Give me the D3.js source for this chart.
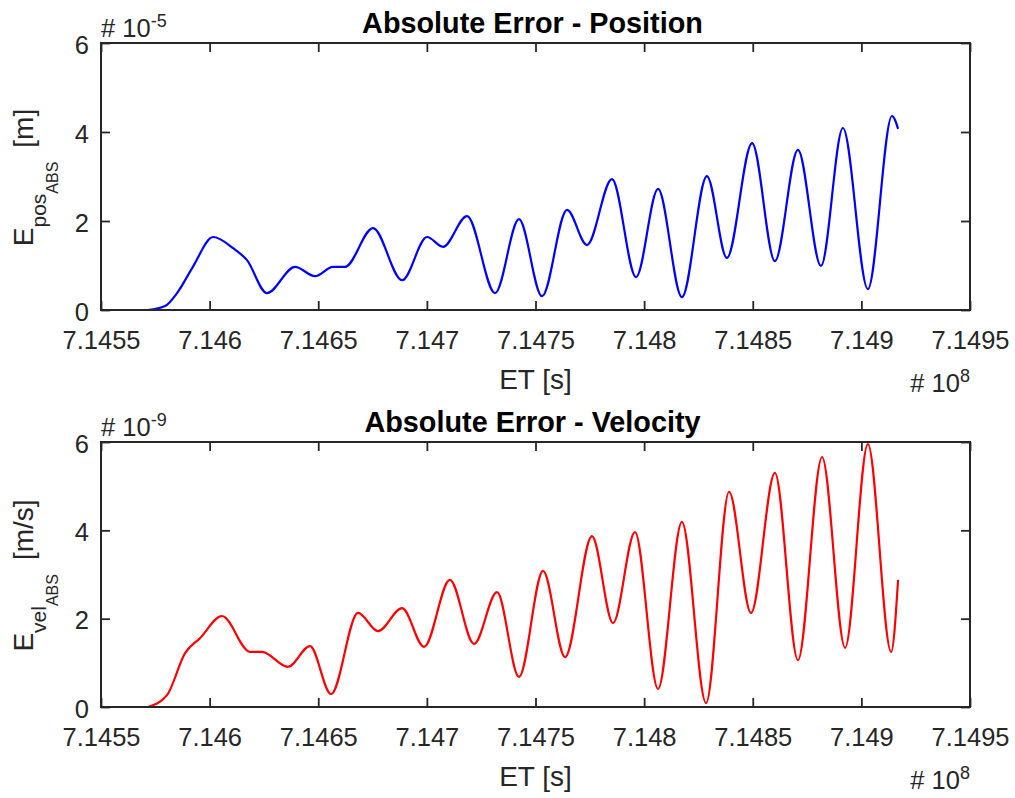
<!DOCTYPE html>
<html>
<head>
<meta charset="utf-8">
<script src="https://cdn.jsdelivr.net/npm/d3@7"></script>
<style>
  html, body { margin: 0; padding: 0; background: #fff; }
  svg { display: block; font-family: "Liberation Sans", Arial, Helvetica, sans-serif; }
</style>
</head>
<body>
<svg id="chart" width="1015" height="798"></svg>
<script>
// ---- data (ET in units of 1e8 s) ----
const xTicks = [7.1455, 7.146, 7.1465, 7.147, 7.1475, 7.148, 7.1485, 7.149, 7.1495];
const xTickLabels = ["7.1455", "7.146", "7.1465", "7.147", "7.1475", "7.148", "7.1485", "7.149", "7.1495"];
const yTicks = [0, 2, 4, 6];
const yTickLabels = ["0", "2", "4", "6"];

// Position error (units of 1e-5 m)
const posET = [7.145716, 7.145795, 7.145850, 7.145923, 7.146016, 7.146108, 7.146172, 7.146264,
  7.146393, 7.146485, 7.146568, 7.146623, 7.146752, 7.146886, 7.147001, 7.147074, 7.147185,
  7.147314, 7.147424, 7.147530, 7.147645, 7.147737, 7.147852, 7.147963, 7.148064, 7.148174,
  7.148289, 7.148381, 7.148497, 7.148602, 7.148708, 7.148814, 7.148915, 7.149030, 7.149141, 7.149169];
const posErr = [0, 0.09, 0.38, 0.97, 1.64, 1.39, 1.12, 0.38,
  0.97, 0.76, 0.97, 0.97, 1.84, 0.67, 1.64, 1.42, 2.11,
  0.38, 2.04, 0.31, 2.25, 1.46, 2.94, 0.74, 2.72, 0.29,
  3.01, 1.17, 3.75, 1.10, 3.60, 0.99, 4.09, 0.47, 4.36, 4.07];

// Velocity error (units of 1e-9 m/s)
const velET = [7.145716, 7.145804, 7.145887, 7.145956, 7.146057, 7.146186, 7.146241, 7.146361,
  7.146462, 7.146559, 7.146683, 7.146775, 7.146886, 7.146987, 7.147106, 7.147217, 7.147323,
  7.147424, 7.147535, 7.147636, 7.147760, 7.147857, 7.147958, 7.148064, 7.148174, 7.148285,
  7.148391, 7.148492, 7.148602, 7.148708, 7.148819, 7.148925, 7.149030, 7.149137, 7.149169];
const velErr = [0, 0.27, 1.22, 1.56, 2.06, 1.25, 1.25, 0.91,
  1.38, 0.29, 2.13, 1.72, 2.24, 1.36, 2.88, 1.43, 2.60,
  0.68, 3.08, 1.13, 3.87, 1.90, 3.96, 0.41, 4.19, 0.09,
  4.87, 2.13, 5.30, 1.06, 5.66, 1.34, 5.95, 1.25, 2.88];

const panels = [
  { title: "Absolute Error - Position", xs: posET, ys: posErr, color: "#0000ff",
    exp: "-5", sub: "pos", unit: "[m]", top: 43, bottom: 310 },
  { title: "Absolute Error - Velocity", xs: velET, ys: velErr, color: "#ff0000",
    exp: "-9", sub: "vel", unit: "[m/s]", top: 442, bottom: 707 }
];

const svg = d3.select("#chart");
const left = 101, right = 970;
const axisColor = "#262626";
const tickFont = 25.5, labelFont = 28, titleFont = 28.8;

panels.forEach(p => {
  const x = d3.scaleLinear().domain([7.1455, 7.1495]).range([left, right]);
  const y = d3.scaleLinear().domain([0, 6]).range([p.bottom, p.top]);
  const g = svg.append("g");

  // curve
  const data = p.xs.map((v, i) => [v, p.ys[i]]);
  g.append("path")
    .datum(data)
    .attr("fill", "none")
    .attr("stroke", p.color)
    .attr("stroke-width", 2.2)
    .attr("stroke-linejoin", "round")
    .attr("d", d3.line().x(d => x(d[0])).y(d => y(d[1])).curve(d3.curveMonotoneX));

  // axes (box with inward ticks)
  const tl = 9;
  const bx = d3.axisBottom(x).tickValues(xTicks).tickFormat((d, i) => xTickLabels[i]).tickSizeInner(-tl).tickSizeOuter(0).tickPadding(22);
  const tx = d3.axisTop(x).tickValues(xTicks).tickFormat("").tickSizeInner(-tl).tickSizeOuter(0);
  const ly = d3.axisLeft(y).tickValues(yTicks).tickFormat((d, i) => yTickLabels[i]).tickSizeInner(-tl).tickSizeOuter(0).tickPadding(12);
  const ry = d3.axisRight(y).tickValues(yTicks).tickFormat("").tickSizeInner(-tl).tickSizeOuter(0);

  const axB = g.append("g").attr("transform", `translate(0,${p.bottom})`).call(bx);
  const axT = g.append("g").attr("transform", `translate(0,${p.top})`).call(tx);
  const axL = g.append("g").attr("transform", `translate(${left},0)`).call(ly);
  const axR = g.append("g").attr("transform", `translate(${right},0)`).call(ry);
  [axB, axT, axL, axR].forEach(a => {
    a.select(".domain").remove();
    a.selectAll("line").attr("stroke", axisColor).attr("stroke-width", 1.8);
    a.selectAll("text").attr("fill", axisColor).style("font-size", tickFont + "px").style("font-family", "Liberation Sans, Arial, sans-serif");
  });
  axB.selectAll("text").attr("dy", "0.68em");
  axL.selectAll("text").attr("dy", "0.40em");

  g.append("rect")
    .attr("x", left).attr("y", p.top)
    .attr("width", right - left).attr("height", p.bottom - p.top)
    .attr("fill", "none").attr("stroke", axisColor).attr("stroke-width", 2);

  // title
  g.append("text")
    .attr("x", (left + right) / 2 - 3).attr("y", p.top - 10)
    .attr("text-anchor", "middle")
    .attr("font-weight", "bold").attr("fill", "#000")
    .style("font-size", titleFont + "px")
    .text(p.title);

  // y exponent
  const ye = g.append("text").attr("x", left).attr("y", p.top - 6)
    .attr("fill", axisColor).style("font-size", tickFont + "px");
  ye.append("tspan").text("# 10");
  ye.append("tspan").attr("dy", -10).style("font-size", "18px").text(p.exp);

  // x exponent
  const xe = g.append("text").attr("x", right).attr("y", p.bottom + 82)
    .attr("text-anchor", "end").attr("fill", axisColor).style("font-size", tickFont + "px");
  xe.append("tspan").text("# 10");
  xe.append("tspan").attr("dy", -10).style("font-size", "18px").text("8");

  // x label
  g.append("text")
    .attr("x", (left + right) / 2).attr("y", p.bottom + 79)
    .attr("text-anchor", "middle").attr("fill", axisColor)
    .style("font-size", labelFont + "px")
    .text("ET [s]");

  // y label
  const yl = g.append("text")
    .attr("transform", `translate(33,${(p.top + p.bottom) / 2 + 1}) rotate(-90)`)
    .attr("text-anchor", "middle").attr("fill", axisColor)
    .style("font-size", labelFont + "px");
  yl.append("tspan").text("E");
  yl.append("tspan").attr("dy", 13).style("font-size", "21px").text(p.sub);
  yl.append("tspan").attr("dy", 12).style("font-size", "16px").text("ABS");
  yl.append("tspan").attr("dy", -25).attr("dx", 14).text(p.unit);
});
</script>
</body>
</html>
